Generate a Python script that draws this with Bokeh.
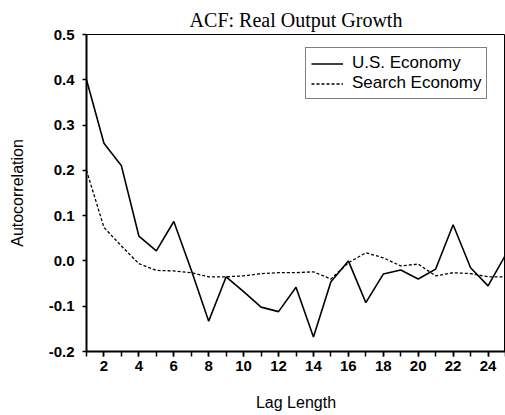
from bokeh.plotting import figure
from bokeh.models import (Range1d, FixedTicker, NumeralTickFormatter, Legend, LegendItem,
                          ColumnDataSource)
from bokeh.embed import file_html
from bokeh.resources import INLINE

lags = list(range(1, 26))
us_economy = [0.40, 0.26, 0.21, 0.055, 0.022, 0.087, -0.02, -0.133, -0.035, -0.068,
              -0.102, -0.112, -0.058, -0.168, -0.046, 0.0, -0.092, -0.029, -0.02, -0.04,
              -0.018, 0.08, -0.015, -0.055, 0.013]
search_economy = [0.20, 0.074, 0.033, -0.006, -0.021, -0.022, -0.026, -0.035, -0.035, -0.033,
                  -0.028, -0.026, -0.026, -0.024, -0.04, -0.004, 0.018, 0.007, -0.011, -0.007,
                  -0.033, -0.026, -0.028, -0.035, -0.035]
x_ticks = [2, 4, 6, 8, 10, 12, 14, 16, 18, 20, 22, 24]
y_ticks = [-0.2, -0.1, 0.0, 0.1, 0.2, 0.3, 0.4, 0.5]

src = ColumnDataSource(dict(lag=lags, us=us_economy, search=search_economy))

p = figure(width=505, height=415, output_backend="svg", toolbar_location=None,
           x_range=Range1d(1, 25), y_range=Range1d(-0.2, 0.5),
           min_border_left=86, min_border_right=0, min_border_top=34, min_border_bottom=64)

p.title.text = "ACF: Real Output Growth"
p.title.text_font = "Liberation Serif"
p.title.text_font_size = "20px"
p.title.text_font_style = "normal"
p.title.text_color = "black"
p.title.align = "center"
p.title.standoff = 8

p.xgrid.visible = False
p.ygrid.visible = False
p.outline_line_color = "black"
p.outline_line_width = 1
p.background_fill_color = "white"
p.border_fill_color = "white"

for ax in (p.xaxis[0], p.yaxis[0]):
    ax.axis_line_color = "black"
    ax.major_tick_line_color = "black"
    ax.minor_tick_line_color = "black"
    ax.major_label_text_color = "black"
    ax.axis_label_text_color = "black"
    ax.axis_label_text_font = "Liberation Sans"
    ax.axis_label_text_font_size = "16px"
    ax.axis_label_text_font_style = "normal"
    ax.major_label_text_font = "Liberation Sans"
    ax.major_label_text_font_size = "15px"
    ax.major_label_text_font_style = "bold"
    ax.axis_line_width = 2
    ax.major_tick_line_width = 1.5
    ax.minor_tick_line_width = 1.5

xa = p.xaxis[0]
xa.ticker = FixedTicker(ticks=x_ticks, minor_ticks=lags)
xa.axis_label = "Lag Length"
xa.axis_label_standoff = 20
xa.major_label_standoff = 4
xa.major_tick_in = 0
xa.major_tick_out = 5
xa.minor_tick_in = 0
xa.minor_tick_out = 5

ya = p.yaxis[0]
ya.ticker = FixedTicker(ticks=y_ticks, minor_ticks=[])
ya.formatter = NumeralTickFormatter(format="0.0")
ya.axis_label = "Autocorrelation"
ya.axis_label_standoff = 20
ya.major_label_standoff = 8
ya.major_tick_in = 0
ya.major_tick_out = 4
ya.minor_tick_line_color = None

r_us = p.line("lag", "us", source=src, line_color="black", line_width=1.6)
r_se = p.line("lag", "search", source=src, line_color="black", line_width=1.3,
              line_dash="3 2")

legend = Legend(items=[LegendItem(label="U.S. Economy", renderers=[r_us]),
                       LegendItem(label="Search Economy", renderers=[r_se])],
                location=(219, 252))
legend.label_text_font = "Liberation Sans"
legend.label_text_font_size = "17px"
legend.label_text_color = "black"
legend.label_height = 19
legend.glyph_height = 19
legend.glyph_width = 32
legend.label_standoff = 9
legend.padding = 5
legend.spacing = 0
legend.margin = 0
legend.border_line_color = "black"
legend.border_line_width = 1.5
legend.background_fill_color = "white"
legend.background_fill_alpha = 1
p.add_layout(legend, "center")

open("out.html", "w").write(file_html(p, INLINE))
